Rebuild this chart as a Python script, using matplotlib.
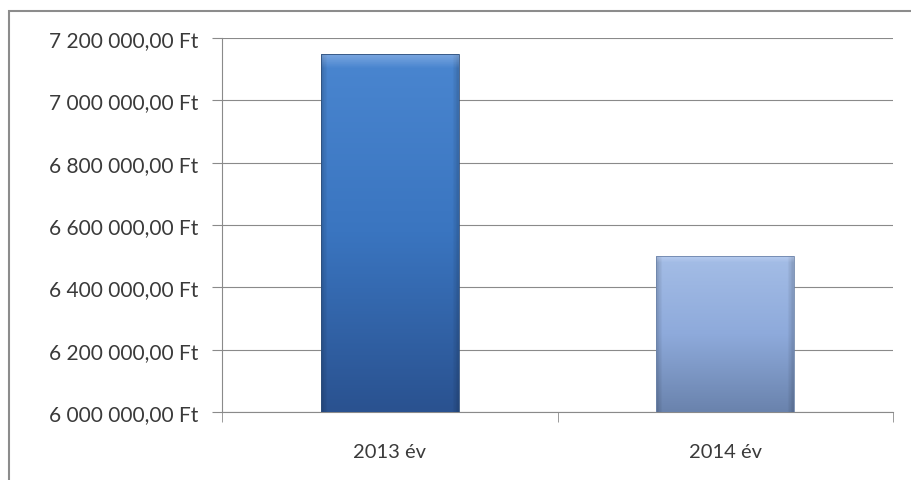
import matplotlib
matplotlib.use("Agg")
import matplotlib.pyplot as plt
import numpy as np
from matplotlib.colors import LinearSegmentedColormap
from matplotlib.patches import Rectangle

categories = ["2013 év", "2014 év"]
values = [7150000, 6500000]
yticks = [6000000, 6200000, 6400000, 6600000, 6800000, 7000000, 7200000]

def fmt(v):
    s = f"{int(v):,}".replace(",", " ")
    return s + ",00 Ft"

plt.rcParams['font.family'] = ['Lato', 'DejaVu Sans']

fig = plt.figure(figsize=(9.12, 4.81), dpi=100)
fig.patch.set_facecolor("white")
# outer chart frame
fig.patches.append(Rectangle((9 / 912, -0.05), 1.2, 1 - 12 / 481 + 0.05, transform=fig.transFigure,
                             fill=False, edgecolor="#8c8c8c", linewidth=1.5, zorder=0))

ax = fig.add_axes([222 / 912, 1 - 413 / 481, (893 - 222) / 912, (413 - 39) / 481])
ax.set_ylim(6000000, 7200000)
ax.set_xlim(-0.5, 1.5)

grads = [("#4a86d0", "#3a75c0", "#2a5290"), ("#a4bde6", "#8eaadb", "#6a83ad")]
width = 0.41
for i, (v, g) in enumerate(zip(values, grads)):
    b = ax.bar(i, v - 6000000, width=width, bottom=6000000, color="none", edgecolor="none", zorder=3)[0]
    cmap = LinearSegmentedColormap.from_list("g", [g[0], g[1], g[2]])
    ny = 200
    grad = np.linspace(0, 1, ny)[:, None] * np.ones((1, 50))
    xs = np.linspace(0, 1, 50)
    edge = np.clip(np.minimum(xs, 1 - xs) / 0.04, 0, 1)
    img = cmap(grad)
    img[..., :3] *= (0.85 + 0.15 * edge)[None, :, None]
    topb = np.linspace(0, 1, ny)
    hl = np.clip(1 - topb / 0.04, 0, 1)[:, None, None]
    img[..., :3] = img[..., :3] * (1 - 0.35 * hl) + 0.35 * hl * np.array([0.85, 0.9, 1.0])
    im = ax.imshow(img, extent=[i - width / 2, i + width / 2, 6000000, v], aspect="auto",
                   origin="upper", zorder=3)
    im.set_clip_path(b)
    ax.add_patch(Rectangle((i - width / 2, 6000000), width, v - 6000000, fill=False,
                           edgecolor="#2f4f7a" if i == 0 else "#6d84aa", linewidth=0.6, zorder=4))

ax.set_yticks(yticks)
ax.set_yticklabels([fmt(t) for t in yticks])
ax.set_xticks([0, 1])
ax.set_xticklabels(categories)
ax.set_xticks([-0.5, 0.5, 1.5], minor=True)
ax.grid(axis="y", color="#8a8a8a", linewidth=0.8, zorder=0)
ax.set_axisbelow(True)
for s in ["top", "right"]:
    ax.spines[s].set_visible(False)
ax.spines["left"].set_color("#8a8a8a")
ax.spines["bottom"].set_color("#8a8a8a")
ax.tick_params(axis="y", length=7, color="#8a8a8a", labelsize=15, labelcolor="#3a3a3a", pad=10)
ax.tick_params(axis="x", which="major", length=0, labelsize=14.5, labelcolor="#3a3a3a", pad=22)
ax.tick_params(axis="x", which="minor", length=7, color="#8a8a8a")

fig.savefig("out.png", dpi=100)
